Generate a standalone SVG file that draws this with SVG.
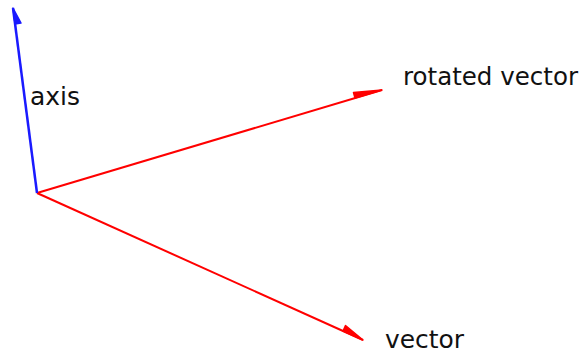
<svg xmlns="http://www.w3.org/2000/svg" width="583" height="353" viewBox="0 0 583 353">
<style>
.red{stroke:#ff0000;stroke-width:2;fill:none}
.blue{stroke:#1a1aff;stroke-width:2.5;fill:none}
.hr{fill:#ff0000;stroke:#ff0000;stroke-width:1.5;stroke-linejoin:round}
.hb{fill:#1a1aff;stroke:#1a1aff;stroke-width:1.5;stroke-linejoin:round}
text{font-family:"DejaVu Sans",Verdana,sans-serif;font-size:24px;fill:#111}
</style>
<rect width="583" height="353" fill="#ffffff"/>
<g id="connectors">
<line class="red" x1="37" y1="193" x2="382" y2="90"/>
<polygon class="hr" points="382,90 353.5,92.5 355,98"/>
<line class="red" x1="37" y1="193" x2="363" y2="340"/>
<polygon class="hr" points="363,340 345.5,325.5 343,331"/>
<line class="blue" x1="37" y1="193" x2="13" y2="8"/>
<polygon class="hb" points="13,8 21,23 15,24"/>
</g>
<g id="axis"><text x="30" y="105" textLength="50" lengthAdjust="spacingAndGlyphs">axis</text></g>
<g id="rotated"><text x="403" y="85" textLength="175" lengthAdjust="spacingAndGlyphs">rotated vector</text></g>
<g id="vector"><text x="385" y="348" textLength="79" lengthAdjust="spacingAndGlyphs">vector</text></g>
</svg>
